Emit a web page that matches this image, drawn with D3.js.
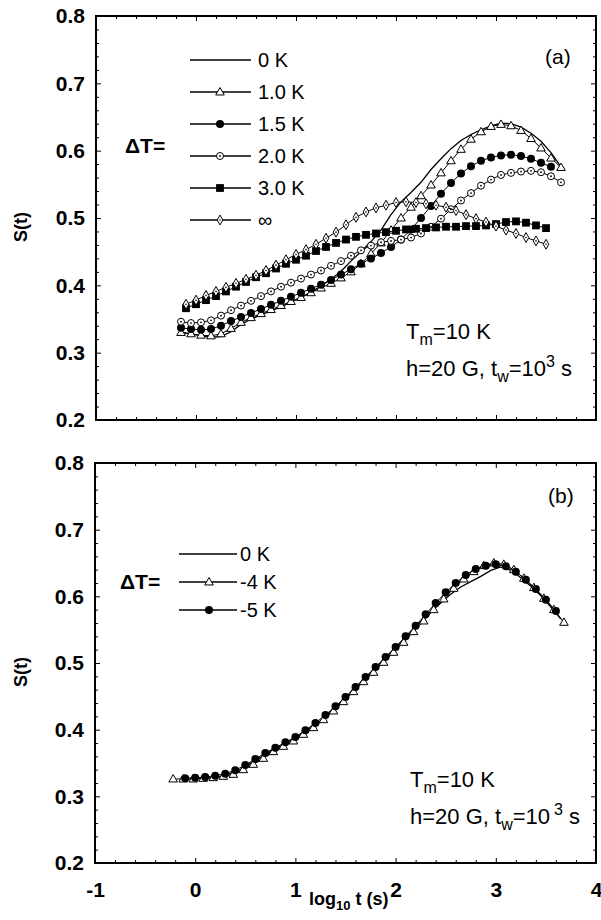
<!DOCTYPE html>
<html><head><meta charset="utf-8">
<script src="https://cdn.jsdelivr.net/npm/d3@7"></script>
<style>
html,body{margin:0;padding:0;background:#fff;}
svg{display:block;}
text{font-family:"Liberation Sans",Arial,sans-serif;fill:#000;}
</style></head>
<body>
<svg id="chart" width="601" height="920"></svg>
<script>
// ---------- DATA ----------
const xTickLabels = [-1, 0, 1, 2, 3, 4];
const yTickLabels = [0.2, 0.3, 0.4, 0.5, 0.6, 0.7, 0.8];

// Panel (a)
const xTopA = [-0.15,-0.05,0.05,0.15,0.25,0.35,0.45,0.55,0.65,0.75,0.85,0.95,1.05,1.15,1.25,1.35,1.45,1.55,1.65,1.75,1.85,1.95,2.05,2.15,2.25,2.35,2.45,2.55,2.65,2.75,2.85,2.95,3.05,3.15,3.25,3.35,3.45,3.55,3.65];
const xTopB = [-0.1,0,0.1,0.2,0.3,0.4,0.5,0.6,0.7,0.8,0.9,1.0,1.1,1.2,1.3,1.4,1.5,1.6,1.7,1.8,1.9,2.0,2.1,2.2,2.3,2.4,2.5,2.6,2.7,2.8,2.9,3.0,3.1,3.2,3.3,3.4,3.5];
const topS0K  = [0.330,0.328,0.325,0.323,0.324,0.331,0.342,0.350,0.356,0.362,0.368,0.375,0.382,0.390,0.399,0.409,0.421,0.436,0.450,0.465,0.482,0.505,0.524,0.538,0.553,0.572,0.588,0.603,0.615,0.624,0.631,0.637,0.641,0.640,0.635,0.626,0.614,0.597,0.576];
const topS10K = [0.330,0.328,0.326,0.325,0.328,0.336,0.345,0.352,0.358,0.364,0.370,0.376,0.382,0.389,0.396,0.403,0.411,0.420,0.432,0.447,0.463,0.482,0.500,0.516,0.533,0.549,0.567,0.585,0.602,0.617,0.628,0.636,0.639,0.637,0.630,0.618,0.604,0.589,0.575];
const topS15K = [0.337,0.335,0.334,0.335,0.340,0.347,0.353,0.359,0.365,0.371,0.377,0.383,0.389,0.395,0.401,0.408,0.416,0.424,0.432,0.440,0.448,0.457,0.468,0.483,0.500,0.518,0.536,0.552,0.566,0.577,0.585,0.590,0.593,0.594,0.592,0.588,0.582,0.576];
const topS20K = [0.346,0.344,0.345,0.348,0.355,0.363,0.370,0.377,0.384,0.391,0.398,0.404,0.410,0.416,0.422,0.429,0.436,0.444,0.452,0.459,0.464,0.466,0.468,0.471,0.477,0.487,0.499,0.513,0.526,0.537,0.548,0.557,0.564,0.567,0.569,0.570,0.568,0.562,0.553];
const topS30K = [0.366,0.372,0.378,0.384,0.391,0.398,0.405,0.412,0.418,0.425,0.432,0.438,0.444,0.451,0.457,0.463,0.468,0.472,0.475,0.477,0.479,0.481,0.483,0.484,0.485,0.486,0.487,0.487,0.488,0.488,0.489,0.491,0.494,0.495,0.493,0.489,0.485];
const topSInf = [0.372,0.378,0.385,0.391,0.397,0.403,0.409,0.415,0.422,0.430,0.438,0.446,0.453,0.461,0.470,0.479,0.490,0.501,0.509,0.515,0.519,0.523,0.524,0.523,0.521,0.519,0.516,0.511,0.505,0.499,0.494,0.488,0.482,0.477,0.471,0.466,0.461];

// Panel (b)
const xBotLine = [-0.15,-0.05,0.05,0.15,0.25,0.35,0.45,0.55,0.65,0.75,0.85,0.95,1.05,1.15,1.25,1.35,1.45,1.55,1.65,1.75,1.85,1.95,2.05,2.15,2.25,2.35,2.45,2.55,2.65,2.75,2.85,2.95,3.05,3.15,3.25,3.35,3.45,3.55,3.65];
const botS0K = [0.327,0.327,0.327,0.328,0.330,0.334,0.340,0.349,0.358,0.367,0.375,0.383,0.392,0.402,0.413,0.426,0.440,0.455,0.470,0.485,0.500,0.515,0.530,0.546,0.562,0.577,0.590,0.603,0.614,0.622,0.630,0.639,0.644,0.639,0.628,0.615,0.601,0.584,0.566];
const xBotTri = [-0.22,-0.12,-0.02,0.08,0.18,0.28,0.38,0.48,0.58,0.68,0.78,0.88,0.98,1.08,1.18,1.28,1.38,1.48,1.58,1.68,1.78,1.88,1.98,2.08,2.18,2.28,2.38,2.48,2.58,2.68,2.78,2.88,2.98,3.08,3.18,3.28,3.38,3.48,3.58,3.68];
const botS4K = [0.326,0.326,0.326,0.327,0.328,0.330,0.333,0.340,0.348,0.357,0.367,0.375,0.383,0.393,0.403,0.415,0.428,0.442,0.457,0.472,0.486,0.501,0.516,0.531,0.547,0.563,0.580,0.596,0.612,0.626,0.637,0.646,0.650,0.648,0.640,0.627,0.613,0.597,0.580,0.561];
const xBotCirc = [-0.1,0,0.1,0.2,0.3,0.4,0.5,0.6,0.7,0.8,0.9,1.0,1.1,1.2,1.3,1.4,1.5,1.6,1.7,1.8,1.9,2.0,2.1,2.2,2.3,2.4,2.5,2.6,2.7,2.8,2.9,3.0,3.1,3.2,3.3,3.4,3.5,3.6];
const botS5K = [0.327,0.328,0.329,0.331,0.334,0.339,0.347,0.356,0.365,0.373,0.381,0.389,0.399,0.410,0.422,0.435,0.449,0.464,0.479,0.494,0.509,0.524,0.540,0.556,0.573,0.590,0.606,0.620,0.632,0.641,0.646,0.648,0.645,0.637,0.625,0.611,0.595,0.578];

const topLegend = ["0 K", "1.0 K", "1.5 K", "2.0 K", "3.0 K", "\u221E"];
const botLegend = ["0 K", "-4 K", "-5 K"];

// ---------- DRAW ----------
const svg = d3.select("#chart");
const zip = (xs, ys) => xs.map((x, i) => [x, ys[i]]);

function drawMarker(g, type, x, y) {
  if (type === "none") return;
  if (type === "tri") {
    g.append("path").attr("d", d3.symbol(d3.symbolTriangle, 32)())
      .attr("transform", `translate(${x},${y + 0.5})`)
      .attr("fill", "#fff").attr("stroke", "#000").attr("stroke-width", 1);
  } else if (type === "fcirc") {
    g.append("circle").attr("cx", x).attr("cy", y).attr("r", 4).attr("fill", "#000");
  } else if (type === "ocirc") {
    g.append("circle").attr("cx", x).attr("cy", y).attr("r", 3.5)
      .attr("fill", "#fff").attr("stroke", "#000").attr("stroke-width", 1);
    g.append("circle").attr("cx", x).attr("cy", y).attr("r", 0.9).attr("fill", "#000");
  } else if (type === "square") {
    g.append("rect").attr("x", x - 3.9).attr("y", y - 3.9).attr("width", 7.8).attr("height", 7.8).attr("fill", "#000");
  } else if (type === "diam") {
    g.append("path").attr("d", d3.symbol(d3.symbolDiamond, 28)())
      .attr("transform", `translate(${x},${y})`)
      .attr("fill", "#fff").attr("stroke", "#000").attr("stroke-width", 1);
    g.append("circle").attr("cx", x).attr("cy", y).attr("r", 0.8).attr("fill", "#000");
  }
}

function panel(cfg) {
  const x = d3.scaleLinear().domain([-1, 4]).range([cfg.x0, cfg.x1]);
  const y = d3.scaleLinear().domain([0.2, 0.8]).range([cfg.y1, cfg.y0]);
  const g = svg.append("g");
  const fmt = d3.format(".1f");
  const yMinor = d3.range(0.2, 0.8001, 0.02).filter(v => Math.abs(v * 10 - Math.round(v * 10)) > 1e-6);
  const xMinor = d3.range(-1, 4.0001, 0.2).filter(v => Math.abs(v - Math.round(v)) > 1e-6);

  const addAxis = (axis, tx, ty) => {
    const a = g.append("g").attr("transform", `translate(${tx},${ty})`).call(axis);
    a.select(".domain").remove();
    a.selectAll("line").attr("stroke", "#000").attr("stroke-width", 1);
    a.selectAll("text").attr("font-size", 21).attr("font-weight", "bold")
      .attr("font-family", '"Liberation Sans",Arial,sans-serif');
    return a;
  };
  // left
  addAxis(d3.axisLeft(y).tickValues(yTickLabels).tickSize(-5).tickPadding(11).tickFormat(fmt), cfg.x0, 0);
  addAxis(d3.axisLeft(y).tickValues(yMinor).tickSize(-3).tickFormat(""), cfg.x0, 0);
  // right
  addAxis(d3.axisRight(y).tickValues(yTickLabels).tickSize(-5).tickFormat(""), cfg.x1, 0);
  addAxis(d3.axisRight(y).tickValues(yMinor).tickSize(-3).tickFormat(""), cfg.x1, 0);
  // top
  addAxis(d3.axisTop(x).tickValues(xTickLabels).tickSize(-5).tickFormat(""), 0, cfg.y0);
  addAxis(d3.axisTop(x).tickValues(xMinor).tickSize(-3).tickFormat(""), 0, cfg.y0);
  // bottom
  addAxis(d3.axisBottom(x).tickValues(xTickLabels).tickSize(-5).tickPadding(19)
    .tickFormat(cfg.xLabels ? (d => String(d)) : ""), 0, cfg.y1);
  addAxis(d3.axisBottom(x).tickValues(xMinor).tickSize(-3).tickFormat(""), 0, cfg.y1);

  // series
  const line = d3.line().x(d => x(d[0])).y(d => y(d[1]));
  cfg.series.forEach(s => {
    const pts = zip(s.xs, s.ys);
    g.append("path").datum(pts).attr("d", line).attr("fill", "none")
      .attr("stroke", "#000").attr("stroke-width", s.lw || 1);
    const mg = g.append("g");
    pts.forEach(p => drawMarker(mg, s.marker, x(p[0]), y(p[1])));
  });

  // frame
  g.append("rect").attr("x", cfg.x0).attr("y", cfg.y0)
    .attr("width", cfg.x1 - cfg.x0).attr("height", cfg.y1 - cfg.y0)
    .attr("fill", "none").attr("stroke", "#000").attr("stroke-width", 2);

  // y label
  g.append("text").attr("transform", `translate(${cfg.yLabelX},${cfg.yLabelY}) rotate(-90)`)
    .attr("text-anchor", "middle").attr("font-size", 18).attr("font-weight", "bold").text("S(t)");

  // legend
  const L = cfg.legend;
  cfg.series.forEach((s, i) => {
    const yy = L.y0 + i * L.dy;
    g.append("line").attr("x1", L.x1).attr("x2", L.x2).attr("y1", yy).attr("y2", yy)
      .attr("stroke", "#000").attr("stroke-width", 1.3);
    drawMarker(g, s.marker, L.mx, yy);
    g.append("text").attr("x", L.tx).attr("y", yy + 7).attr("font-size", 20).text(L.labels[i]);
  });
  g.append("text").attr("x", L.dtx).attr("y", L.dty).attr("font-size", 21).attr("font-weight", "bold").text("\u0394T=");

  // panel tag
  g.append("text").attr("x", cfg.tagX).attr("y", cfg.tagY).attr("font-size", 21).text(cfg.tag);

  // annotations
  const t1 = g.append("text").attr("x", cfg.annX).attr("y", cfg.annY1).attr("font-size", 22);
  t1.append("tspan").text("T");
  t1.append("tspan").attr("font-size", 16).attr("dy", 6).text("m");
  t1.append("tspan").attr("dy", -6).text("=10 K");
  const t2 = g.append("text").attr("x", cfg.annX).attr("y", cfg.annY2).attr("font-size", 22);
  t2.append("tspan").text("h=20 G, t");
  t2.append("tspan").attr("font-size", 16).attr("dy", 6).text("w");
  t2.append("tspan").attr("dy", -6).text("=10");
  t2.append("tspan").attr("font-size", 16).attr("dy", -9).attr("dx", cfg.supDx).text("3");
  t2.append("tspan").attr("dy", 9).text(" s");
  return { x, y };
}

panel({
  x0: 96, x1: 596, y0: 16, y1: 420, xLabels: false,
  yLabelX: 27, yLabelY: 227,
  tag: "(a)", tagX: 545, tagY: 64,
  annX: 406, annY1: 339, annY2: 376, supDx: 0,
  series: [
    { xs: xTopA, ys: topS0K, marker: "none", lw: 1.3 },
    { xs: xTopA, ys: topS10K, marker: "tri" },
    { xs: xTopA.slice(0, topS15K.length), ys: topS15K, marker: "fcirc" },
    { xs: xTopA, ys: topS20K, marker: "ocirc" },
    { xs: xTopB, ys: topS30K, marker: "square" },
    { xs: xTopB, ys: topSInf, marker: "diam" }
  ],
  legend: { x1: 190, x2: 251, mx: 220, tx: 258, y0: 60, dy: 32, labels: topLegend, dtx: 125, dty: 153 }
});

panel({
  x0: 95, x1: 596, y0: 463, y1: 863, xLabels: true,
  yLabelX: 27, yLabelY: 672,
  tag: "(b)", tagX: 548, tagY: 503,
  annX: 410, annY1: 787, annY2: 824, supDx: 4,
  series: [
    { xs: xBotLine, ys: botS0K, marker: "none", lw: 1.3 },
    { xs: xBotTri, ys: botS4K, marker: "tri" },
    { xs: xBotCirc, ys: botS5K, marker: "fcirc" }
  ],
  legend: { x1: 179, x2: 237, mx: 209, tx: 240, y0: 554, dy: 28, labels: botLegend, dtx: 120, dty: 589 }
});

// x-axis title
const xt = svg.append("text").attr("x", 309).attr("y", 905)
  .attr("font-family", '"Liberation Serif","Times New Roman",serif')
  .attr("font-weight", "bold").attr("font-size", 18);
xt.append("tspan").text("log");
xt.append("tspan").attr("font-size", 13).attr("dy", 5).text("10");
xt.append("tspan").attr("dy", -5).text(" t (s)");
</script>
</body></html>
